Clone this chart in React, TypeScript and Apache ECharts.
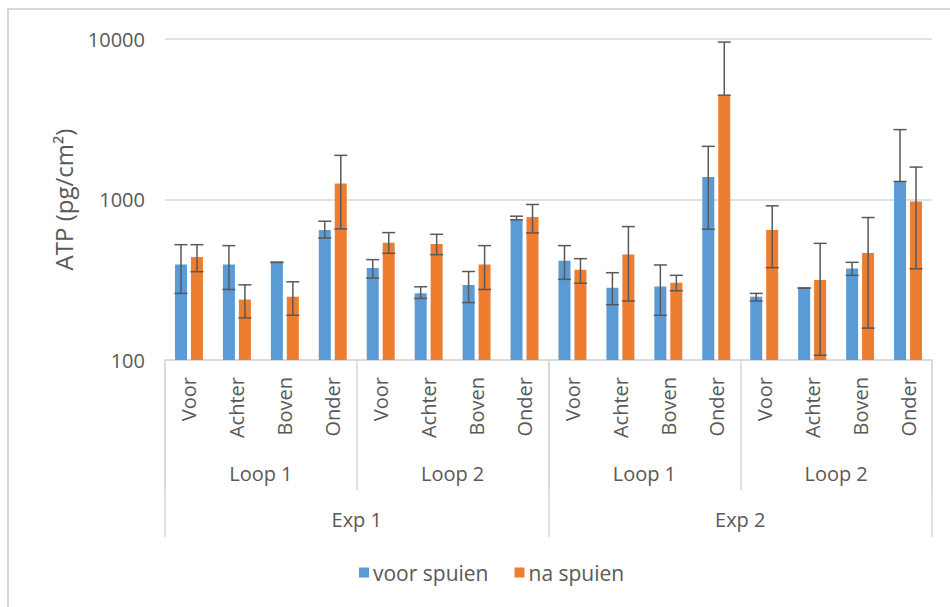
import React, { useEffect, useRef } from "react";
import * as echarts from "echarts";

const categories = [
  "Voor", "Achter", "Boven", "Onder",
  "Voor", "Achter", "Boven", "Onder",
  "Voor", "Achter", "Boven", "Onder",
  "Voor", "Achter", "Boven", "Onder",
];
const loops = ["Loop 1", "Loop 2", "Loop 1", "Loop 2"];
const exps = ["Exp 1", "Exp 2"];

const voorSpuien = [393, 393, 406, 646, 374, 261, 293, 757, 416, 282, 287, 1380, 248, 280, 372, 1296];
const voorLow = [260, 275, 405, 576, 324, 242, 228, 747, 318, 221, 190, 653, 233, 280, 337, 1296];
const voorHigh = [523, 516, 407, 732, 422, 286, 356, 787, 516, 350, 391, 2144, 260, 281, 406, 2725];

const naSpuien = [438, 238, 248, 1259, 538, 528, 394, 779, 365, 455, 303, 4467, 646, 315, 464, 972];
const naLow = [355, 183, 190, 656, 462, 453, 275, 619, 301, 233, 270, 4467, 376, 107, 158, 370];
const naHigh = [523, 294, 307, 1884, 622, 607, 516, 931, 428, 678, 337, 9570, 913, 533, 772, 1592];

const yTicks = [100, 1000, 10000];

const TEXT = "#595959";
const LINE = "#d9d9d9";
const FONT = "Open Sans";

function errSeries(low: number[], high: number[], off: number) {
  return {
    type: "custom",
    xAxisIndex: 0,
    yAxisIndex: 0,
    z: 5,
    silent: true,
    encode: { x: 0, y: [1, 2] },
    data: low.map((l, i) => [i, l, high[i]]),
    renderItem: (params: any, api: any) => {
      const i = api.value(0);
      const lo = api.coord([i, api.value(1)]);
      const hi = api.coord([i, api.value(2)]);
      const x = lo[0] + off;
      const style = { stroke: "#595959", lineWidth: 1.5 };
      return {
        type: "group",
        children: [
          { type: "line", shape: { x1: x, y1: hi[1], x2: x, y2: lo[1] }, style },
          { type: "line", shape: { x1: x - 6.5, y1: hi[1], x2: x + 6.5, y2: hi[1] }, style },
          { type: "line", shape: { x1: x - 6.5, y1: lo[1], x2: x + 6.5, y2: lo[1] }, style },
        ],
      };
    },
  };
}

export default function App() {
  const ref = useRef<HTMLDivElement>(null);
  useEffect(() => {
    if (!ref.current) return;
    const chart = echarts.init(ref.current, null, { renderer: "svg" });
    chart.setOption({
      animation: false,
      textStyle: { fontFamily: FONT },
      graphic: [
        {
          type: "rect",
          shape: { x: 8, y: 9, width: 980, height: 640 },
          style: { fill: "none", stroke: LINE, lineWidth: 2 },
          silent: true,
        },
      ],
      grid: { left: 165, right: 18, top: 39, bottom: 247 },
      legend: {
        data: ["voor spuien", "na spuien"],
        left: 354,
        top: 557,
        itemWidth: 10,
        itemHeight: 10,
        itemGap: 26,
        icon: "rect",
        textStyle: { fontSize: 21, color: TEXT, fontFamily: FONT, padding: [0, 0, 0, -1] },
      },
      xAxis: [
        {
          type: "category",
          data: categories,
          position: "bottom",
          axisLine: { show: true, lineStyle: { color: LINE, width: 1.5 } },
          axisTick: { show: false },
          axisLabel: {
            interval: 0,
            rotate: 90,
            margin: 17,
            fontSize: 20,
            color: TEXT,
            fontFamily: FONT,
          },
        },
        {
          type: "category",
          data: loops,
          position: "bottom",
          offset: 0,
          axisLine: { show: false },
          axisTick: { show: true, length: 130, interval: 0, lineStyle: { color: LINE, width: 1.5 } },
          axisLabel: { interval: 0, margin: 103, fontSize: 20, color: TEXT, fontFamily: FONT },
        },
        {
          type: "category",
          data: exps,
          position: "bottom",
          offset: 0,
          axisLine: { show: false },
          axisTick: { show: true, length: 177, interval: 0, lineStyle: { color: LINE, width: 1.5 } },
          axisLabel: { interval: 0, margin: 149, fontSize: 20, color: TEXT, fontFamily: FONT },
        },
      ],
      yAxis: {
        type: "log",
        logBase: 10,
        min: yTicks[0],
        max: yTicks[yTicks.length - 1],
        name: "ATP (pg/cm²)",
        nameLocation: "middle",
        nameGap: 90,
        nameTextStyle: { fontSize: 24, color: TEXT, fontFamily: FONT },
        axisLine: { show: false },
        axisTick: { show: false },
        axisLabel: {
          fontSize: 20,
          color: TEXT,
          margin: 20,
          fontFamily: FONT,
          formatter: (v: number) => String(Math.round(v)),
        },
        splitLine: { show: true, lineStyle: { color: LINE, width: 1.5 } },
      },
      series: [
        {
          name: "voor spuien",
          type: "bar",
          xAxisIndex: 0,
          data: voorSpuien,
          barWidth: 12,
          barGap: "33%",
          itemStyle: { color: "#5B9BD5" },
        },
        {
          name: "na spuien",
          type: "bar",
          xAxisIndex: 0,
          data: naSpuien,
          barWidth: 12,
          barGap: "33%",
          itemStyle: { color: "#ED7D31" },
        },
        errSeries(voorLow, voorHigh, -8),
        errSeries(naLow, naHigh, 8),
      ],
    });
    return () => chart.dispose();
  }, []);
  return (
    <div
      ref={ref}
      style={{ position: "fixed", left: 0, top: 0, width: 950, height: 607, background: "#fff" }}
    />
  );
}
